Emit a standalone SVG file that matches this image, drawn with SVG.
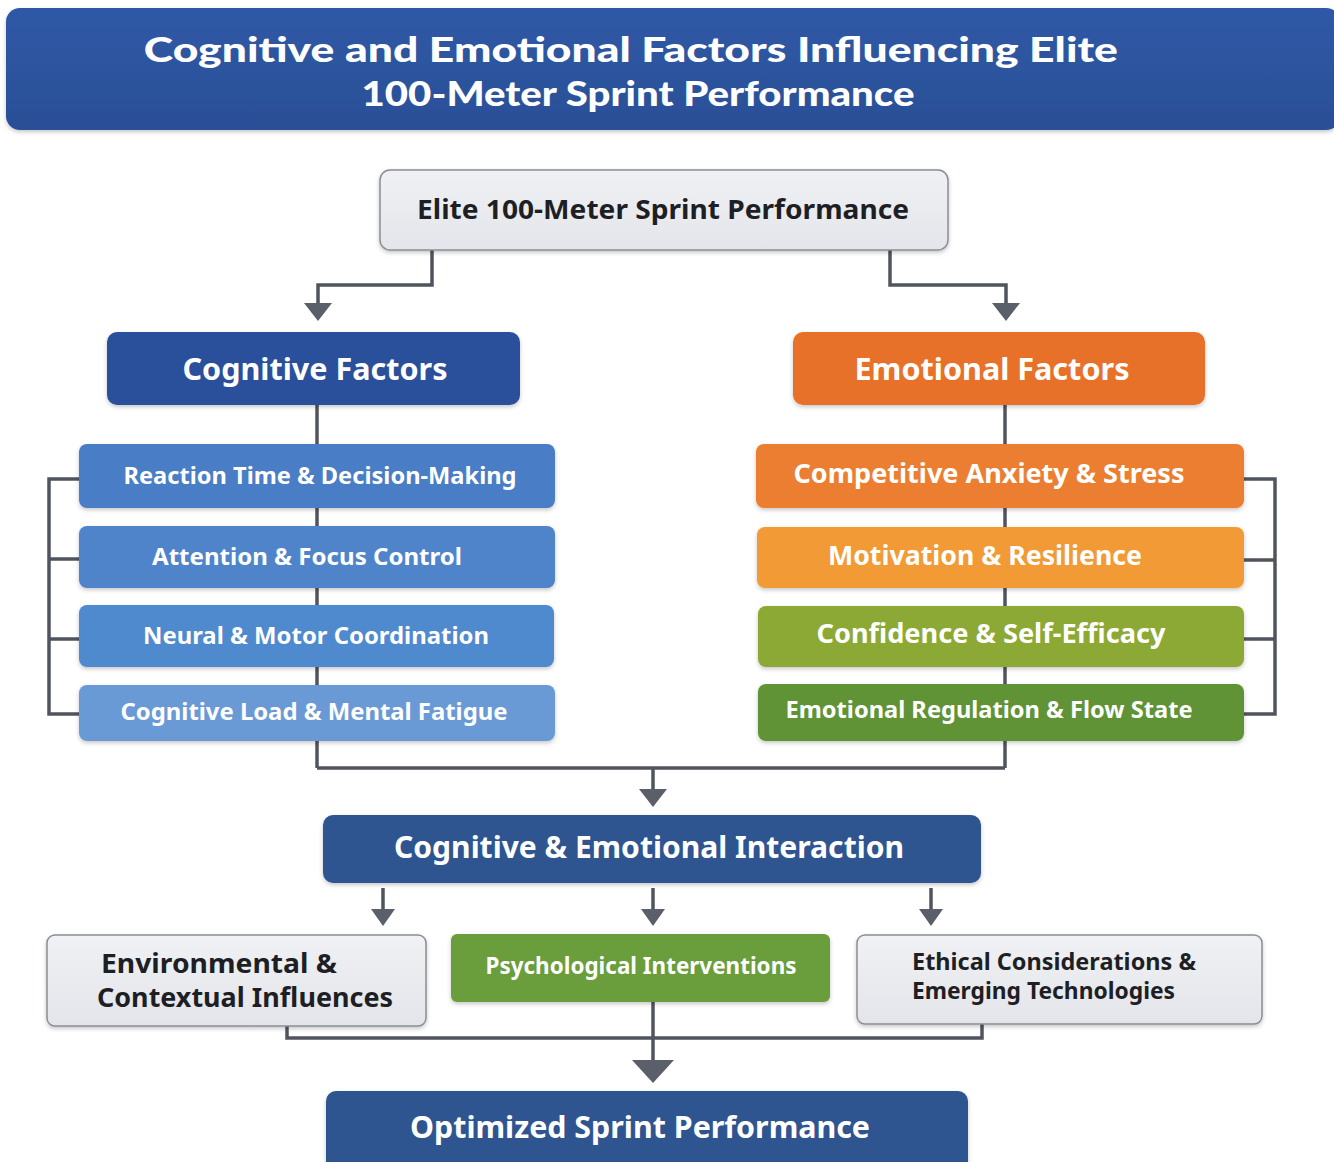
<svg xmlns="http://www.w3.org/2000/svg" width="1334" height="1162" viewBox="0 0 1334 1162">
  <defs>
    <filter id="shadow" x="-5%" y="-10%" width="110%" height="130%">
      <feDropShadow dx="0" dy="2" stdDeviation="2" flood-color="#000" flood-opacity="0.22"/>
    </filter>
    <linearGradient id="gTitle" x1="0" y1="0" x2="0" y2="1">
      <stop offset="0" stop-color="#2F59A6"/>
      <stop offset="1" stop-color="#2A4F96"/>
    </linearGradient>
    <linearGradient id="gGray" x1="0" y1="0" x2="0" y2="1">
      <stop offset="0" stop-color="#F0F1F4"/>
      <stop offset="1" stop-color="#E3E5EA"/>
    </linearGradient>
  </defs>
  <style>
    text { font-family: "Noto Sans", "Open Sans", "Liberation Sans", sans-serif; font-weight: bold; }
    .title { font-family: Lato, "Noto Sans", "Liberation Sans", sans-serif; font-weight: 900; }
    .w { fill: #FFFFFF; }
    .d { fill: #1E1F24; }
    .m { text-anchor: middle; }
    .box { filter: url(#shadow); }
    .gray { fill: url(#gGray); stroke: #8A8D95; stroke-width: 1.5; }
    .line { fill: none; stroke: #50545E; stroke-width: 3.5; stroke-linejoin: miter; }
    .head { fill: #5B5F69; }
  </style>

  <rect width="1334" height="1162" fill="#FFFFFF"/>

  <!-- title banner -->
  <g id="title">
    <rect class="box" x="6" y="8" width="1334" height="122" rx="14" fill="url(#gTitle)"/>
    <text class="w m title" font-size="35">
      <tspan x="635" y="62" textLength="974" lengthAdjust="spacingAndGlyphs">Cognitive and Emotional Factors Influencing Elite</tspan>
      <tspan x="638" y="106" textLength="553" lengthAdjust="spacingAndGlyphs">100-Meter Sprint Performance</tspan>
    </text>
  </g>

  <!-- connectors -->
  <g id="connectors">
    <!-- top node to the two factor groups -->
    <path class="line" d="M432 250 V285 H318 V306"/>
    <polygon class="head" points="304,303 332,303 318,321"/>
    <path class="line" d="M890 250 V285 H1006 V306"/>
    <polygon class="head" points="992,303 1020,303 1006,321"/>

    <!-- cognitive spine and bracket -->
    <path class="line" d="M317 405 V768"/>
    <path class="line" d="M79 479 H49 V714 H79 M49 559 H79 M49 639 H79"/>

    <!-- emotional spine and bracket -->
    <path class="line" d="M1005 405 V768"/>
    <path class="line" d="M1244 479 H1275 V714 H1244 M1275 560 H1244 M1275 639 H1244"/>

    <!-- merge into interaction -->
    <path class="line" d="M317 768 H1005"/>
    <path class="line" d="M653 768 V792"/>
    <polygon class="head" points="639,789 667,789 653,807"/>

    <!-- interaction to the three outcomes -->
    <path class="line" d="M383 888 V912" stroke-width="3"/>
    <polygon class="head" points="371,909 395,909 383,926"/>
    <path class="line" d="M653 888 V912" stroke-width="3"/>
    <polygon class="head" points="641,909 665,909 653,926"/>
    <path class="line" d="M931 888 V912" stroke-width="3"/>
    <polygon class="head" points="919,909 943,909 931,926"/>

    <!-- outcomes to optimized performance -->
    <path class="line" d="M287 1026 V1038 H982 V1024"/>
    <path class="line" d="M653 1002 V1064"/>
    <polygon class="head" points="632,1060 674,1060 653,1083"/>
  </g>

  <!-- top node -->
  <g id="node-elite">
    <rect class="box gray" x="380" y="170" width="568" height="80" rx="10"/>
    <text class="d m" x="663" y="219" font-size="27" textLength="492" lengthAdjust="spacingAndGlyphs">Elite 100-Meter Sprint Performance</text>
  </g>

  <!-- cognitive branch -->
  <g id="node-cognitive">
    <rect class="box" x="107" y="332" width="413" height="73" rx="10" fill="#2B509B"/>
    <text class="w m" x="315" y="380" font-size="30" textLength="265" lengthAdjust="spacingAndGlyphs">Cognitive Factors</text>
  </g>
  <g id="node-reaction">
    <rect class="box" x="79" y="444" width="476" height="64" rx="8" fill="#4A7DC6"/>
    <text class="w m" x="320" y="484" font-size="23.5" textLength="393" lengthAdjust="spacingAndGlyphs">Reaction Time &amp; Decision-Making</text>
  </g>
  <g id="node-attention">
    <rect class="box" x="79" y="526" width="476" height="62" rx="8" fill="#4F84CB"/>
    <text class="w m" x="307" y="565" font-size="23.5" textLength="310" lengthAdjust="spacingAndGlyphs">Attention &amp; Focus Control</text>
  </g>
  <g id="node-neural">
    <rect class="box" x="79" y="605" width="475" height="62" rx="8" fill="#5089CE"/>
    <text class="w m" x="316" y="644" font-size="23.5" textLength="346" lengthAdjust="spacingAndGlyphs">Neural &amp; Motor Coordination</text>
  </g>
  <g id="node-load">
    <rect class="box" x="79" y="685" width="476" height="56" rx="8" fill="#6A9AD6"/>
    <text class="w m" x="314" y="720" font-size="23.5" textLength="387" lengthAdjust="spacingAndGlyphs">Cognitive Load &amp; Mental Fatigue</text>
  </g>

  <!-- emotional branch -->
  <g id="node-emotional">
    <rect class="box" x="793" y="332" width="412" height="73" rx="10" fill="#E8712A"/>
    <text class="w m" x="992" y="380" font-size="30" textLength="275" lengthAdjust="spacingAndGlyphs">Emotional Factors</text>
  </g>
  <g id="node-anxiety">
    <rect class="box" x="756" y="444" width="488" height="64" rx="8" fill="#EC7E31"/>
    <text class="w m" x="989" y="483" font-size="26" textLength="391" lengthAdjust="spacingAndGlyphs">Competitive Anxiety &amp; Stress</text>
  </g>
  <g id="node-motivation">
    <rect class="box" x="757" y="527" width="487" height="61" rx="8" fill="#F29A34"/>
    <text class="w m" x="985" y="565" font-size="26" textLength="314" lengthAdjust="spacingAndGlyphs">Motivation &amp; Resilience</text>
  </g>
  <g id="node-confidence">
    <rect class="box" x="758" y="606" width="486" height="61" rx="8" fill="#8DA935"/>
    <text class="w m" x="991" y="643" font-size="26" textLength="349" lengthAdjust="spacingAndGlyphs">Confidence &amp; Self-Efficacy</text>
  </g>
  <g id="node-regulation">
    <rect class="box" x="758" y="684" width="486" height="57" rx="8" fill="#5E9334"/>
    <text class="w m" x="989" y="718" font-size="23" textLength="407" lengthAdjust="spacingAndGlyphs">Emotional Regulation &amp; Flow State</text>
  </g>

  <!-- interaction -->
  <g id="node-interaction">
    <rect class="box" x="323" y="815" width="658" height="68" rx="10" fill="#2E5490"/>
    <text class="w m" x="649" y="858" font-size="30" textLength="510" lengthAdjust="spacingAndGlyphs">Cognitive &amp; Emotional Interaction</text>
  </g>

  <!-- outcomes -->
  <g id="node-environment">
    <rect class="box gray" x="47" y="935" width="379" height="91" rx="8"/>
    <text class="d" font-size="27">
      <tspan x="101" y="973" textLength="236" lengthAdjust="spacingAndGlyphs">Environmental &amp;</tspan>
      <tspan x="97" y="1007" textLength="296" lengthAdjust="spacingAndGlyphs">Contextual Influences</tspan>
    </text>
  </g>
  <g id="node-psych">
    <rect class="box" x="451" y="934" width="379" height="68" rx="6" fill="#6A9D3B"/>
    <text class="w m" x="641" y="974" font-size="22.5" textLength="311" lengthAdjust="spacingAndGlyphs">Psychological Interventions</text>
  </g>
  <g id="node-ethics">
    <rect class="box gray" x="857" y="935" width="405" height="89" rx="8"/>
    <text class="d" font-size="23">
      <tspan x="912" y="970" textLength="284" lengthAdjust="spacingAndGlyphs">Ethical Considerations &amp;</tspan>
      <tspan x="912" y="999" textLength="263" lengthAdjust="spacingAndGlyphs">Emerging Technologies</tspan>
    </text>
  </g>

  <!-- final node -->
  <g id="node-optimized">
    <rect class="box" x="326" y="1091" width="642" height="90" rx="10" fill="#2E5490"/>
    <text class="w m" x="640" y="1138" font-size="30" textLength="460" lengthAdjust="spacingAndGlyphs">Optimized Sprint Performance</text>
  </g>
</svg>
